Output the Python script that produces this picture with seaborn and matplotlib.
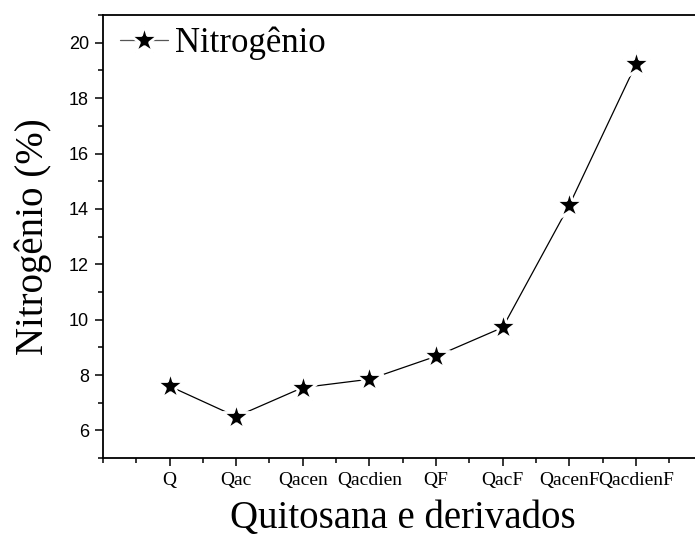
import numpy as np
import pandas as pd
import matplotlib
matplotlib.use('Agg')
import matplotlib.pyplot as plt
from matplotlib.ticker import MultipleLocator
import seaborn as sns

# data
amostras = ['Q', 'Qac', 'Qacen', 'Qacdien', 'QF', 'QacF', 'QacenF', 'QacdienF']
nitrogenio = [7.6, 6.5, 7.55, 7.85, 8.68, 9.72, 14.14, 19.23]

df = pd.DataFrame({'pos': np.arange(1, len(amostras) + 1), 'N': nitrogenio})

sns.set_style('ticks')
plt.rcParams['font.family'] = ['Liberation Serif', 'DejaVu Serif']
plt.rcParams['text.color'] = 'black'
plt.rcParams['axes.labelcolor'] = 'black'
plt.rcParams['xtick.color'] = 'black'
plt.rcParams['ytick.color'] = 'black'

fig = plt.figure(figsize=(6.95, 5.39), dpi=100)
ax = fig.add_axes([0.148, 0.150, 0.863, 0.822])

sns.lineplot(data=df, x='pos', y='N', ax=ax, color='black', linewidth=0.9,
             marker='*', markersize=21, markerfacecolor='black',
             markeredgecolor='white', markeredgewidth=2.0, label='Nitrogênio')

ax.set_xlim(0, 9)
ax.set_ylim(5, 21)
ax.set_xticks(df['pos'])
ax.set_xticklabels(amostras, fontsize=14)
ax.xaxis.set_minor_locator(MultipleLocator(0.5))
ax.yaxis.set_minor_locator(MultipleLocator(1))
ax.set_yticks(np.arange(6, 21, 2))
for t in ax.get_yticklabels():
    t.set_fontfamily('Liberation Sans')
    t.set_fontsize(13)

ax.tick_params(which='major', direction='out', length=6, width=1.1)
ax.tick_params(which='minor', direction='out', length=3.5, width=1.1)
ax.tick_params(axis='x', pad=4)
ax.tick_params(axis='y', pad=4)
for s in ax.spines.values():
    s.set_linewidth(1.3)
    s.set_color('black')

ax.set_xlabel('Quitosana e derivados', fontsize=28, labelpad=8)
ax.set_ylabel('Nitrogênio (%)', fontsize=28, labelpad=12)

leg = ax.legend(loc='upper left', frameon=False, fontsize=25,
                handlelength=1.4, handletextpad=0.2,
                borderaxespad=0.0, bbox_to_anchor=(0.005, 1.005))
for h in leg.get_lines():
    h.set_color('#555555')
    h.set_markerfacecolor('black')
    h.set_markeredgecolor('white')

fig.savefig('out.png', dpi=100)
